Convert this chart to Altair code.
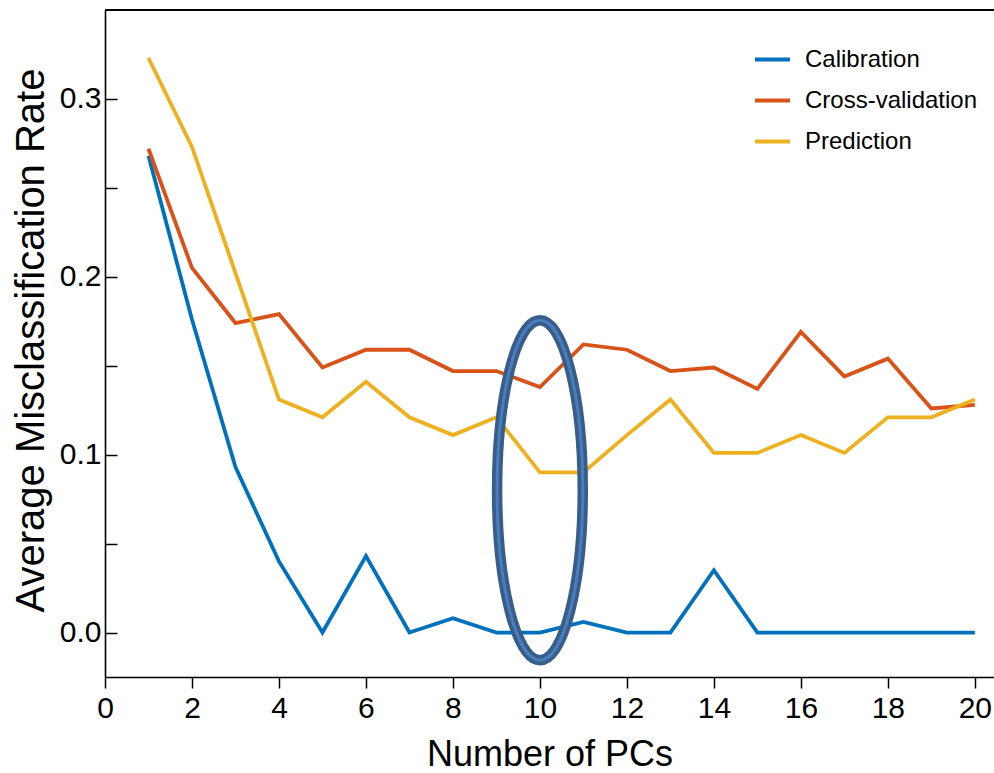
import altair as alt
import pandas as pd

# Misclassification rate per number of principal components
n_pcs = list(range(1, 21))
calibration = [0.268, 0.176, 0.093, 0.040, 0.000, 0.043, 0.000, 0.008, 0.000, 0.000,
               0.006, 0.000, 0.000, 0.035, 0.000, 0.000, 0.000, 0.000, 0.000, 0.000]
cross_validation = [0.272, 0.205, 0.174, 0.179, 0.149, 0.159, 0.159, 0.147, 0.147, 0.138,
                    0.162, 0.159, 0.147, 0.149, 0.137, 0.169, 0.144, 0.154, 0.126, 0.128]
prediction = [0.323, 0.273, 0.202, 0.131, 0.121, 0.141, 0.121, 0.111, 0.121, 0.090,
              0.090, 0.111, 0.131, 0.101, 0.101, 0.111, 0.101, 0.121, 0.121, 0.131]

series_names = ["Calibration", "Cross-validation", "Prediction"]
series_colors = ["#0072BD", "#D95319", "#EDB120"]

x_tick_values = [0, 2, 4, 6, 8, 10, 12, 14, 16, 18, 20]
y_label_values = [0.0, 0.1, 0.2, 0.3]
y_tick_values = [0.0, 0.05, 0.1, 0.15, 0.2, 0.25, 0.3]
x_domain = [0, 20.44]
y_domain = [-0.025, 0.35]

# Highlighted component count (ring annotation)
highlight_pc = [10]
highlight_rate = [0.080]

FONT = "Liberation Sans"
W, H = 889, 667

rows = []
for name, values in zip(series_names, [calibration, cross_validation, prediction]):
    for pc, v in zip(n_pcs, values):
        rows.append({"pcs": pc, "rate": v, "series": name})
df = pd.DataFrame(rows)
ring_df = pd.DataFrame({"pcs": highlight_pc, "rate": highlight_rate})

x_scale = alt.Scale(domain=x_domain, nice=False, zero=False)
y_scale = alt.Scale(domain=y_domain, nice=False, zero=False)

lines = alt.Chart(df).mark_line(strokeWidth=3.8).encode(
    x=alt.X("pcs:Q", scale=x_scale,
            axis=alt.Axis(values=x_tick_values, title="Number of PCs", orient="bottom",
                          tickSize=11, tickWidth=1.5, tickColor="black",
                          domainColor="black", domainWidth=1.6,
                          labelFont=FONT, labelFontSize=30, labelColor="black",
                          labelPadding=5, labelFlush=False, labelOverlap=False,
                          titleFont=FONT, titleFontSize=36, titleFontWeight="normal",
                          titleColor="black", titleBaseline="alphabetic", titleY=88,
                          grid=False)),
    y=alt.Y("rate:Q", scale=y_scale,
            axis=alt.Axis(values=y_label_values, format=".1f", orient="left",
                          title="Average Misclassification Rate",
                          ticks=False, tickSize=0,
                          domainColor="black", domainWidth=1.6,
                          labelFont=FONT, labelFontSize=30, labelColor="black",
                          labelPadding=4, labelFlush=False, labelOverlap=False,
                          titleFont=FONT, titleFontSize=40, titleFontWeight="normal",
                          titleColor="black", titleBaseline="alphabetic",
                          titleX=-62, titleY=330, titleAngle=270,
                          grid=False)),
    color=alt.Color("series:N",
                    scale=alt.Scale(domain=series_names, range=series_colors),
                    legend=alt.Legend(title=None, orient="none", legendX=648, legendY=30,
                                      symbolType="stroke", symbolSize=1225,
                                      symbolStrokeWidth=3.8, labelFont=FONT,
                                      labelFontSize=24, labelColor="black",
                                      labelLimit=0, labelOffset=13, rowPadding=9,
                                      padding=0)),
)

# Top edge of the plot frame, drawn at the upper end of the y scale
frame_top = alt.Chart(ring_df).mark_rule(color="black", strokeWidth=1.8).encode(
    y=alt.YDatum(y_domain[1], scale=y_scale, axis=None),
)

ring_path = "M -0.252 0 A 0.252 1 0 1 0 0.252 0 A 0.252 1 0 1 0 -0.252 0 Z"

ring_outer = alt.Chart(ring_df).mark_point(
    shape=ring_path, size=340 ** 2, filled=False, stroke="#385D8A",
    strokeWidth=10.5, opacity=1
).encode(
    x=alt.X("pcs:Q", scale=x_scale, axis=None),
    y=alt.Y("rate:Q", scale=y_scale,
            axis=alt.Axis(orient="right", offset=-W, values=y_tick_values,
                          labels=False, domain=False, title=None, grid=False,
                          tickSize=12, tickWidth=1.5, tickColor="black")),
)

ring_inner = alt.Chart(ring_df).mark_point(
    shape=ring_path, size=340 ** 2, filled=False, stroke="#4A7EBB",
    strokeWidth=3, opacity=1
).encode(
    x=alt.X("pcs:Q", scale=x_scale, axis=None),
    y=alt.Y("rate:Q", scale=y_scale, axis=None),
)

chart = alt.layer(lines, frame_top, ring_outer, ring_inner).resolve_axis(
    x="independent", y="independent"
).properties(
    width=W, height=H,
    autosize=alt.AutoSizeParams(type="none"),
    padding={"left": 105, "top": 10, "right": 0, "bottom": 96},
    background="white",
).configure_view(stroke=None)

chart.save("out.html", embed_options={"renderer": "svg", "actions": False})
